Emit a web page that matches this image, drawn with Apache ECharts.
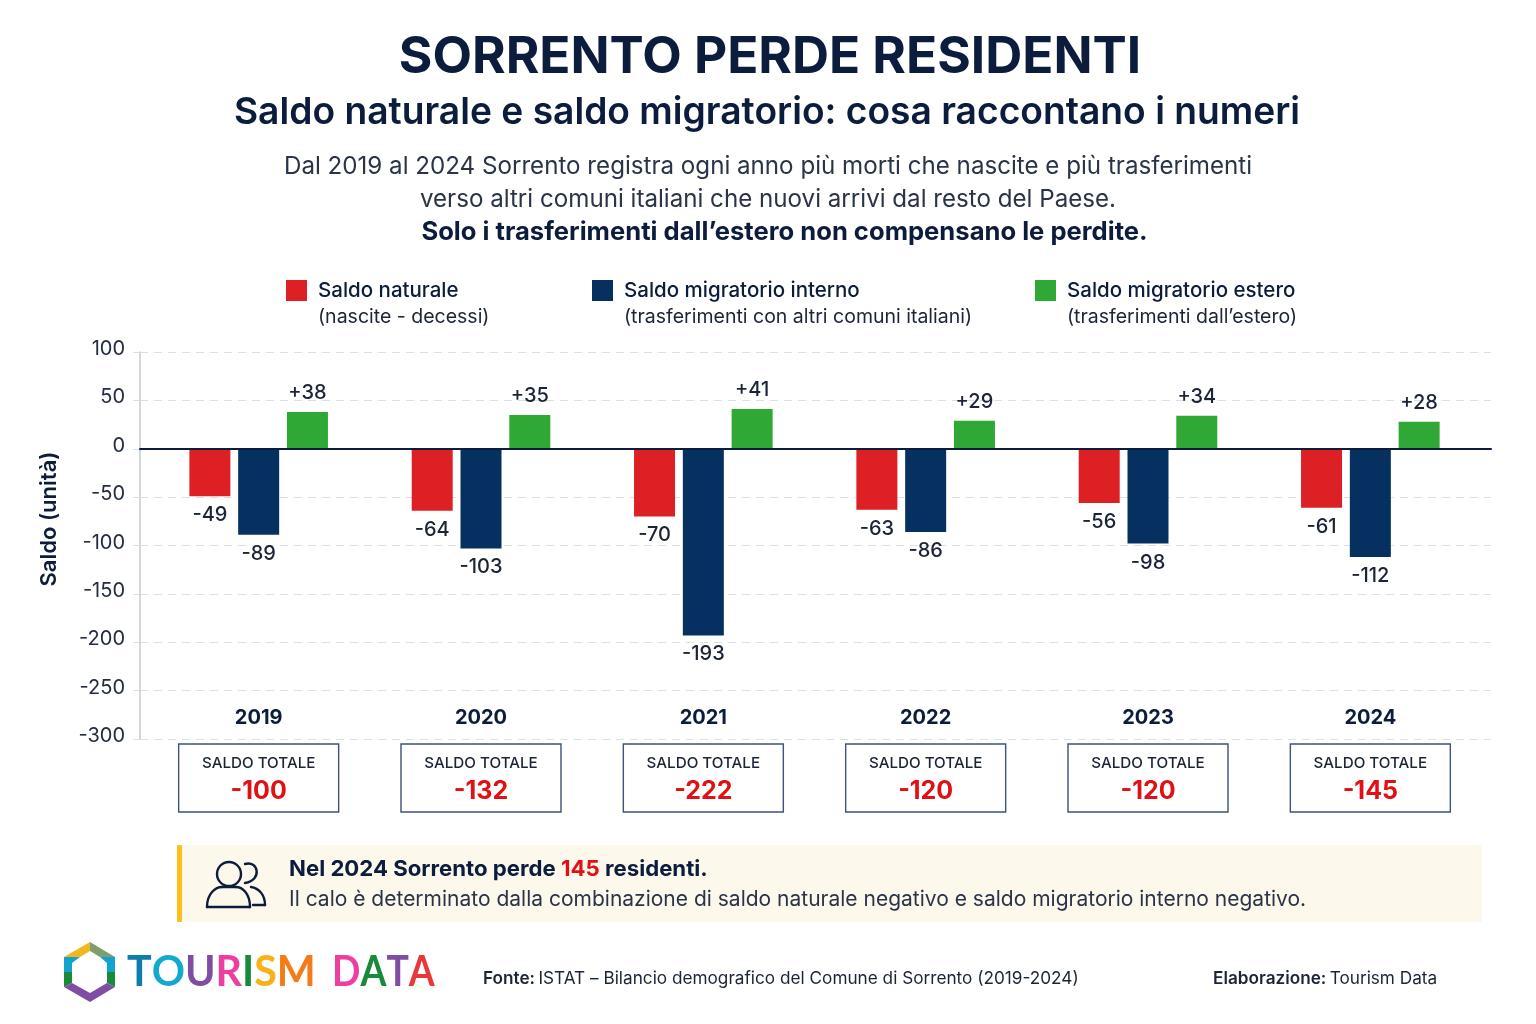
<!DOCTYPE html>
<html><head><meta charset="utf-8">
<style>html,body{margin:0;padding:0;background:#fff}#c{width:1536px;height:1024px}</style>
<script src="https://cdn.jsdelivr.net/npm/echarts@6/dist/echarts.min.js"></script>
</head><body><div id="c"></div>
<script>
const years = ['2019','2020','2021','2022','2023','2024'];
const saldoNaturale = [-49,-64,-70,-63,-56,-61];
const saldoInterno = [-89,-103,-193,-86,-98,-112];
const saldoEstero = [38,35,41,29,34,28];
const saldoTotale = [-100,-132,-222,-120,-120,-145];
const yTicks = {min:-300,max:100,interval:50};

const FONT='Inter', NAVY='#0c1c3c', INK='#1b2437', RED='#dc2024', BLUE='#06305f', GREEN='#2fa836', ALERT='#e01015';
const chart = echarts.init(document.getElementById('c'));

function T(text,x,y,size,weight,color,align,extra){
  return Object.assign({type:'text',x,y,silent:true,style:{text,fontFamily:FONT,fontSize:size,fontWeight:weight,fill:color,align:align||'left',verticalAlign:'middle'}},extra||{});
}
function poly(points,fill){return {type:'polygon',silent:true,shape:{points},style:{fill}};}
const iconStroke={fill:'none',stroke:NAVY,lineWidth:2.4,lineCap:'round'};
function curve(x1,y1,cpx1,cpy1,cpx2,cpy2,x2,y2){return {type:'bezierCurve',silent:true,shape:{x1,y1,cpx1,cpy1,cpx2,cpy2,x2,y2},style:iconStroke};}
function seg(x1,y1,x2,y2){return {type:'line',silent:true,shape:{x1,y1,x2,y2},style:iconStroke};}

const logoLetters1=[['T','#0f7cab'],['O','#12a9cf'],['U','#7f4ea3'],['R','#ec3fa0'],['I','#198a3a'],['S','#fbb116'],['M','#f47b16']];
const logoLetters2=[['D','#ec3fa0'],['A','#198a3a'],['T','#7f4ea3'],['A','#e8383a']];
function logoWord(letters,x,scaleX){
  const rich={}; letters.forEach((l,i)=>{rich['l'+i]={fontFamily:'Lato',fontWeight:700,fontSize:42,fill:l[1],color:l[1]};});
  return {type:'text',x,y:972,scaleX,silent:true,style:{text:letters.map((l,i)=>`{l${i}|${l[0]}}`).join(''),verticalAlign:'middle',rich}};
}

const graphics=[
 T('SORRENTO PERDE RESIDENTI',770,58,51.3,700,NAVY,'center'),
 T('Saldo naturale e saldo migratorio: cosa raccontano i numeri',767,113,37.2,600,NAVY,'center'),
 T('Dal 2019 al 2024 Sorrento registra ogni anno più morti che nascite e più trasferimenti',768,166.5,24.15,400,'#2a3448','center'),
 T('verso altri comuni italiani che nuovi arrivi dal resto del Paese.',768,199.5,24.15,400,'#2a3448','center'),
 T('Solo i trasferimenti dall’estero non compensano le perdite.',784.5,232.5,25.6,700,NAVY,'center'),
 T('(nascite - decessi)',318,317,19.5,400,INK),
 T('(trasferimenti con altri comuni italiani)',624,317,19.5,400,INK),
 T('(trasferimenti dall’estero)',1067,317,19.5,400,INK),
 T('Saldo (unità)',49,519,22,600,NAVY,'center',{rotation:Math.PI/2}),
 // callout
 {type:'rect',silent:true,shape:{x:177,y:845,width:1305,height:77},style:{fill:'#fdf8ec'}},
 {type:'rect',silent:true,shape:{x:177,y:845,width:5,height:77,r:1},style:{fill:'#fbc01a'}},
 {type:'circle',silent:true,shape:{cx:229,cy:874,r:12},style:{fill:'none',stroke:NAVY,lineWidth:2.4}},
 curve(207,907,207,893,216,887,222,887), seg(222,887,236,887), curve(236,887,242,887,250,893,250,907), seg(207,907,250,907),
 curve(245,864,258,860,263,880,245,883),
 curve(251,887,259,888,265,895,265,905), seg(265,905,253,905),
 {type:'text',x:289,y:869.5,silent:true,style:{text:'{a|Nel 2024 Sorrento perde }{b|145}{a| residenti.}',verticalAlign:'middle',rich:{a:{fontFamily:FONT,fontSize:22.2,fontWeight:700,fill:NAVY,color:NAVY},b:{fontFamily:FONT,fontSize:22.2,fontWeight:700,fill:ALERT,color:ALERT}}}},
 T('Il calo è determinato dalla combinazione di saldo naturale negativo e saldo migratorio interno negativo.',289,900,21,400,'#2a3448'),
 // logo hexagon
 poly([[90,942],[64,957],[80,957],[90,951]],'#f2b71e'),
 poly([[90,942],[115,957],[100,957],[90,951]],'#7f9f6a'),
 poly([[64,957],[80,957],[72,963],[72,972],[64,972]],'#12a4cf'),
 poly([[115,957],[100,957],[107,963],[107,972],[115,972]],'#12a4cf'),
 poly([[64,972],[72,972],[72,983],[64,987]],'#198a3a'),
 poly([[115,972],[107,972],[107,983],[115,987]],'#198a3a'),
 poly([[64,987],[72,983],[90,993],[107,983],[115,987],[90,1002]],'#7f4ea3'),
 logoWord(logoLetters1,127,0.98),
 logoWord(logoLetters2,332,0.89),
 // footer
 {type:'text',x:483,y:979,silent:true,style:{text:'{b|Fonte:} {r|ISTAT – Bilancio demografico del Comune di Sorrento (2019-2024)}',verticalAlign:'middle',rich:{b:{fontFamily:FONT,fontSize:17.2,fontWeight:600,fill:INK,color:INK},r:{fontFamily:FONT,fontSize:17.2,fontWeight:400,fill:INK,color:INK}}}},
 {type:'text',x:1213,y:979,silent:true,style:{text:'{b|Elaborazione:} {r|Tourism Data}',verticalAlign:'middle',rich:{b:{fontFamily:FONT,fontSize:17.2,fontWeight:600,fill:INK,color:INK},r:{fontFamily:FONT,fontSize:17.2,fontWeight:400,fill:INK,color:INK}}}}
];

function barSeries(name,data,color){
  return {name,type:'bar',xAxisIndex:0,yAxisIndex:0,data,barWidth:41,barGap:'19%',itemStyle:{color},
    label:{show:true,position:'outside',distance:9,fontFamily:FONT,fontSize:20,fontWeight:500,color:INK,formatter:p=>(p.value>0?'+':'')+p.value}};
}
function legendAt(name,left){
  return {data:[{name,icon:'rect'}],left,top:280,padding:0,itemWidth:21,itemHeight:21,itemGap:0,selectedMode:false,
    textStyle:{fontFamily:FONT,fontSize:20.5,fontWeight:500,color:NAVY,padding:[0,0,0,6]}};
}

chart.setOption({
  animation:false,backgroundColor:'#ffffff',
  legend:[legendAt('Saldo naturale',286),legendAt('Saldo migratorio interno',592),legendAt('Saldo migratorio estero',1035)],
  grid:[
    {left:147.5,width:1334,top:352,height:387},
    {left:140,width:1351,top:352,height:387}
  ],
  xAxis:[
    {type:'category',gridIndex:0,data:years,axisLine:{show:false,onZero:false},axisTick:{show:false},
     axisLabel:{margin:-31,fontFamily:FONT,fontSize:20,fontWeight:700,color:NAVY}},
    {type:'value',gridIndex:1,min:0,max:1,axisLabel:{show:false},axisTick:{show:false},splitLine:{show:false},z:5,
     axisLine:{show:true,onZero:true,lineStyle:{color:NAVY,width:2}}}
  ],
  yAxis:[
    {type:'value',gridIndex:0,show:false,min:yTicks.min,max:yTicks.max,interval:yTicks.interval,splitLine:{show:false}},
    {type:'value',gridIndex:1,min:yTicks.min,max:yTicks.max,interval:yTicks.interval,
     axisLine:{show:true,lineStyle:{color:'#c5c9d4',width:1.5}},
     axisTick:{show:true,length:7,lineStyle:{color:'#dcdfe6'}},
     axisLabel:{margin:15,fontFamily:FONT,fontSize:20,fontWeight:400,color:'#232c40',verticalAlign:'bottom',lineHeight:6},
     splitLine:{show:true,lineStyle:{color:'#dcdfe6',type:[8,6],width:1.2}}}
  ],
  series:[
    barSeries('Saldo naturale',saldoNaturale,RED),
    barSeries('Saldo migratorio interno',saldoInterno,BLUE),
    barSeries('Saldo migratorio estero',saldoEstero,GREEN),
    {type:'custom',name:'Saldo totale',xAxisIndex:0,yAxisIndex:0,silent:true,clip:false,z:4,
     data:saldoTotale.map((v,i)=>[i,v]),encode:{x:0,y:1},
     renderItem:(params,api)=>{
       const x=api.coord([api.value(0),-300])[0], top=744;
       return {type:'group',children:[
         {type:'rect',shape:{x:x-80,y:top,width:160,height:68},style:{fill:'#fff',stroke:'#3e5378',lineWidth:1.4}},
         {type:'text',x,y:top+19,style:{text:'SALDO TOTALE',fontFamily:FONT,fontSize:15.2,fontWeight:500,fill:INK,align:'center',verticalAlign:'middle'}},
         {type:'text',x,y:top+47,style:{text:String(api.value(1)),fontFamily:FONT,fontSize:25,fontWeight:700,fill:ALERT,align:'center',verticalAlign:'middle'}}
       ]};
     }}
  ],
  graphic:graphics
});
</script></body></html>
